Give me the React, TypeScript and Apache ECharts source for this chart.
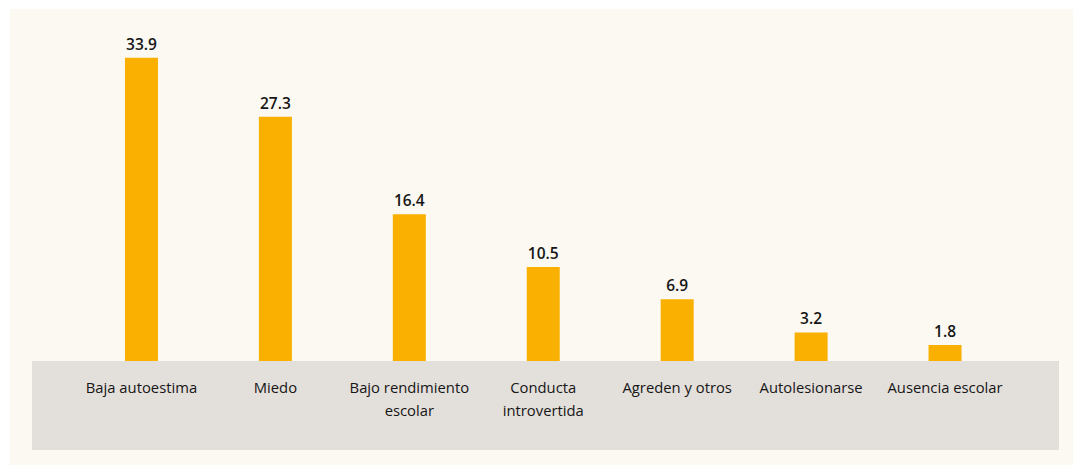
import React, { useEffect, useRef } from "react";
import * as echarts from "echarts";

const categories = [
  "Baja autoestima",
  "Miedo",
  "Bajo rendimiento\nescolar",
  "Conducta\nintrovertida",
  "Agreden y otros",
  "Autolesionarse",
  "Ausencia escolar",
];
const values = [33.9, 27.3, 16.4, 10.5, 6.9, 3.2, 1.8];

export default function App() {
  const ref = useRef<HTMLDivElement>(null);
  useEffect(() => {
    if (!ref.current) return;
    const chart = echarts.init(ref.current, undefined, { renderer: "svg" });
    const font = "'Open Sans', 'Noto Sans', sans-serif";
    chart.setOption({
      animation: false,
      backgroundColor: "#ffffff",
      graphic: [
        {
          type: "rect",
          shape: { x: 10, y: 9, width: 1063, height: 456 },
          style: { fill: "#FCF9F2" },
          z: -10,
          silent: true,
        },
        {
          type: "rect",
          shape: { x: 32, y: 361, width: 1027, height: 89 },
          style: { fill: "#E3DFDB" },
          z: -9,
          silent: true,
        },
      ],
      grid: { left: 74.5, right: 61, top: 48, bottom: 104, containLabel: false },
      xAxis: {
        type: "category",
        data: categories,
        axisLine: { show: false },
        axisTick: { show: false },
        axisLabel: {
          interval: 0,
          margin: 14,
          verticalAlign: "top",
          lineHeight: 23,
          fontFamily: font,
          fontSize: 14.8,
          fontWeight: 500,
          color: "#161616",
        },
      },
      yAxis: {
        type: "value",
        min: 0,
        max: 35,
        show: false,
        splitLine: { show: false },
      },
      series: [
        {
          type: "bar",
          data: values,
          barWidth: 33,
          itemStyle: { color: "#F9B000" },
          label: {
            show: true,
            position: "top",
            distance: 6,
            fontFamily: font,
            fontSize: 15.5,
            fontWeight: 600,
            color: "#161616",
            formatter: (p: any) => p.value.toFixed(1),
          },
        },
      ],
    });
    return () => chart.dispose();
  }, []);
  return (
    <div
      ref={ref}
      style={{ position: "absolute", left: 0, top: 0, width: 1073, height: 465 }}
    />
  );
}
